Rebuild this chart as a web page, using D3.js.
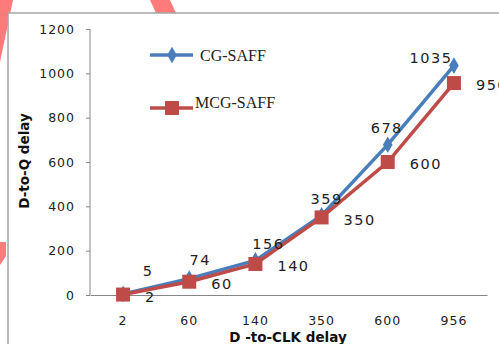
<!DOCTYPE html>
<html>
<head>
<meta charset="utf-8">
<script src="https://cdn.jsdelivr.net/npm/d3@7"></script>
<style>
  body { margin: 0; background: #fff; }
  svg { display: block; }
</style>
</head>
<body>
<svg id="chart" width="499" height="344"></svg>
<script>
// chart data
const categories = ["2", "60", "140", "350", "600", "956"];
const cgValues = [5, 74, 156, 359, 678, 1035];
const mcgValues = [2, 60, 140, 350, 600, 956];
const yTicks = [0, 200, 400, 600, 800, 1000, 1200];
const seriesNames = ["CG-SAFF", "MCG-SAFF"];

const BLUE = "#4a7ebb";
const RED = "#be4b48";
const PINK = "#ff7b7b";

const svg = d3.select("#chart");

// pink stripes behind the frame
const stripes = [
  [[0, 0], [13, 0], [0, 62]],
  [[150, 0], [170, 0], [176, 13], [156, 13]],
  [[0, 242], [6, 242], [6, 256], [0, 265]]
];
svg.selectAll(".stripe")
  .data(stripes)
  .enter()
  .append("polygon")
  .attr("points", (d) => d.map((p) => p.join(",")).join(" "))
  .attr("fill", PINK);

// frame
svg.append("rect")
  .attr("x", 8).attr("y", 13)
  .attr("width", 499).attr("height", 340)
  .attr("fill", "#fff")
  .attr("stroke", "#a6a6a6")
  .attr("stroke-width", 1.5);

// scales
const x = d3.scaleBand().domain(categories).range([90, 487]).padding(0);
const y = d3.scaleLinear().domain([0, 1200]).range([295, 29]);
const cx = (i) => x(categories[i]) + x.bandwidth() / 2;

// y axis
const yAxis = svg.append("g")
  .attr("transform", "translate(90,0)")
  .call(d3.axisLeft(y).tickValues(yTicks).tickFormat(d3.format("d")).tickSize(4).tickPadding(11));
yAxis.select(".domain").attr("stroke", "#868686").attr("d", "M0,29V295");
yAxis.selectAll(".tick line").attr("stroke", "#868686");
yAxis.selectAll("text")
  .attr("font-family", "DejaVu Sans")
  .attr("font-size", 12.5)
  .attr("letter-spacing", 1)
  .attr("fill", "#222");

// x axis
const xAxis = svg.append("g")
  .attr("transform", "translate(0,295)")
  .call(d3.axisBottom(x).tickSize(0).tickPadding(21));
xAxis.select(".domain").attr("stroke", "#868686");
xAxis.selectAll("text")
  .attr("font-family", "DejaVu Sans")
  .attr("font-size", 12.5)
  .attr("letter-spacing", 1)
  .attr("fill", "#222");

// axis titles
svg.append("text")
  .attr("x", 288).attr("y", 342)
  .attr("text-anchor", "middle")
  .attr("font-family", "DejaVu Sans")
  .attr("font-weight", "bold")
  .attr("font-size", 13.5)
  .attr("fill", "#111")
  .text("D -to-CLK delay");

svg.append("text")
  .attr("transform", "translate(29,161) rotate(-90)")
  .attr("text-anchor", "middle")
  .attr("font-family", "DejaVu Sans")
  .attr("font-weight", "bold")
  .attr("font-size", 13.5)
  .attr("fill", "#111")
  .text("D-to-Q delay");

// lines
const line = d3.line().x((d, i) => cx(i)).y((d) => y(d));

svg.append("path")
  .datum(cgValues)
  .attr("d", line)
  .attr("fill", "none")
  .attr("stroke", BLUE)
  .attr("stroke-width", 3.5);

svg.append("path")
  .datum(mcgValues)
  .attr("d", line)
  .attr("fill", "none")
  .attr("stroke", RED)
  .attr("stroke-width", 3.5);

// markers
const diamond = d3.symbol().type(d3.symbolDiamond).size(80);
svg.selectAll(".cg-marker")
  .data(cgValues)
  .enter()
  .append("path")
  .attr("d", diamond)
  .attr("transform", (d, i) => `translate(${cx(i)},${y(d)})`)
  .attr("fill", BLUE);

svg.selectAll(".mcg-marker")
  .data(mcgValues)
  .enter()
  .append("rect")
  .attr("x", (d, i) => cx(i) - 7)
  .attr("y", (d) => y(d) - 7)
  .attr("width", 14)
  .attr("height", 14)
  .attr("fill", RED);

// data labels
const cgLabelDx = [25, 11, 13, 5, -1, -23];
const cgLabelDy = [-23, -19, -17, -17, -17, -8];

svg.selectAll(".cg-label")
  .data(cgValues)
  .enter()
  .append("text")
  .attr("x", (d, i) => cx(i) + cgLabelDx[i])
  .attr("y", (d, i) => y(d) + cgLabelDy[i])
  .attr("dy", "0.36em")
  .attr("text-anchor", "middle")
  .attr("font-family", "DejaVu Sans")
  .attr("font-size", 14.5)
  .attr("letter-spacing", 1.5)
  .attr("fill", "#222")
  .text((d) => d);

svg.selectAll(".mcg-label")
  .data(mcgValues)
  .enter()
  .append("text")
  .attr("x", (d, i) => cx(i) + 22)
  .attr("y", (d) => y(d) + 2)
  .attr("dy", "0.36em")
  .attr("font-family", "DejaVu Sans")
  .attr("font-size", 14.5)
  .attr("letter-spacing", 1.5)
  .attr("fill", "#222")
  .text((d) => d);

// legend
const legend = svg.append("g");

legend.append("line")
  .attr("x1", 150).attr("x2", 193).attr("y1", 55).attr("y2", 55)
  .attr("stroke", BLUE).attr("stroke-width", 3.5);
legend.append("path")
  .attr("d", diamond)
  .attr("transform", "translate(172,55)")
  .attr("fill", BLUE);
legend.append("text")
  .attr("x", 200).attr("y", 55).attr("dy", "0.35em")
  .attr("font-family", "Liberation Serif")
  .attr("font-size", 16)
  .attr("fill", "#222")
  .text(seriesNames[0]);

legend.append("line")
  .attr("x1", 150).attr("x2", 193).attr("y1", 108).attr("y2", 108)
  .attr("stroke", RED).attr("stroke-width", 3.5);
legend.append("rect")
  .attr("x", 165).attr("y", 101).attr("width", 14).attr("height", 14)
  .attr("fill", RED);
legend.append("text")
  .attr("x", 195).attr("y", 102).attr("dy", "0.35em")
  .attr("font-family", "Liberation Serif")
  .attr("font-size", 16)
  .attr("fill", "#222")
  .text(seriesNames[1]);
</script>
</body>
</html>
